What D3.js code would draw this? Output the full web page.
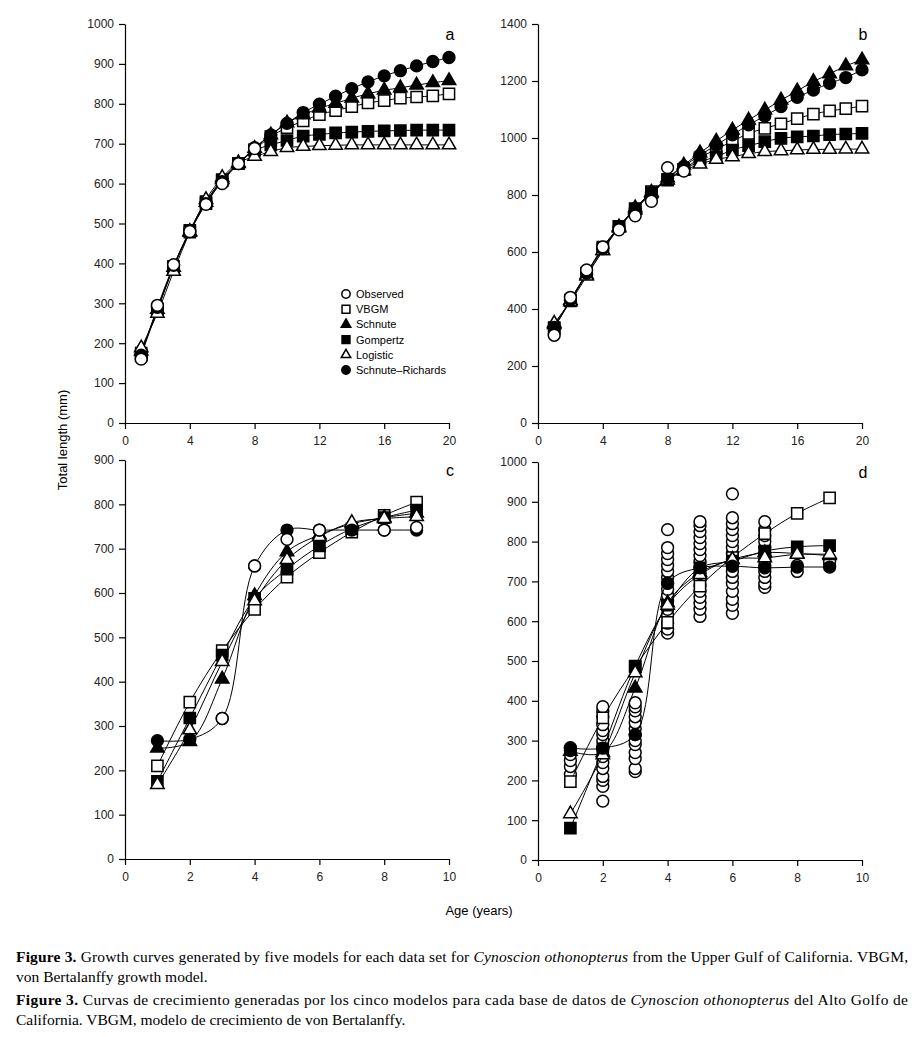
<!DOCTYPE html>
<html>
<head>
<meta charset="utf-8">
<script src="https://cdn.jsdelivr.net/npm/d3@7"></script>
<style>
  body { margin: 0; background: #fff; }
  svg { display: block; }
  .tick text { font-family: "Liberation Sans", Arial, sans-serif; font-size: 12px; fill: #222; }
  .tick line, .domain { stroke: #000; stroke-width: 1.2px; }
</style>
</head>
<body>
<svg id="fig" width="918" height="1037"></svg>
<script>
// ---- data ----
const modelNames = ["VBGM", "Schnute", "Gompertz", "Logistic", "Schnute\u2013Richards"];

// panel a (ages 1..20)
const agesA = d3.range(1, 21);
const obsA = [160, 295, 397, 480, 548, 600, 650, 688];
const vbgmA = [175, 285, 392, 478, 550, 607, 650, 685, 718, 740, 757, 773, 783, 793, 802, 808, 814, 817, 820, 825];
const schnuteA = [180, 285, 390, 480, 553, 610, 650, 688, 722, 752, 772, 789, 801, 814, 825, 834, 840, 847, 853, 858];
const gompertzA = [170, 283, 392, 483, 555, 610, 650, 683, 697, 708, 719, 723, 727, 729, 731, 732, 733, 734, 734, 734];
const logisticA = [188, 275, 380, 478, 560, 615, 652, 668, 680, 690, 693, 695, 696, 697, 697, 697, 697, 697, 697, 697];
const richardsA = [170, 290, 395, 480, 550, 605, 650, 690, 722, 751, 778, 799, 819, 838, 855, 870, 883, 895, 906, 916];

// panel b (ages 1..20)
const agesB = d3.range(1, 21);
const obsB = [308, 441, 537, 618, 678, 727, 778, 896, 884];
const vbgmB = [333, 431, 526, 617, 689, 750, 812, 852, 890, 930, 961, 988, 1016, 1034, 1050, 1068, 1084, 1095, 1103, 1112];
const schnuteB = [345, 430, 520, 605, 688, 755, 810, 860, 905, 948, 989, 1028, 1063, 1098, 1133, 1165, 1198, 1225, 1253, 1274];
const gompertzB = [335, 428, 525, 612, 690, 752, 808, 855, 890, 917, 934, 958, 973, 987, 999, 1004, 1007, 1012, 1014, 1016];
const logisticB = [350, 425, 515, 605, 685, 748, 805, 852, 885, 908, 925, 934, 945, 952, 955, 958, 960, 960, 961, 961];
const richardsB = [335, 432, 525, 612, 688, 752, 808, 858, 900, 940, 975, 1011, 1046, 1077, 1110, 1143, 1168, 1192, 1212, 1239];

// panel c (ages 1..9); null = no visible observed mark
const agesC = d3.range(1, 10);
const obsC = [null, null, 317, 661, 721, 742, null, 742, 748];
const vbgmC = [210, 354, 470, 563, 636, 691, 737, 775, 805];
const schnuteC = [250, 265, 406, 594, 693, 731, 756, 770, 780];
const gompertzC = [175, 318, 460, 588, 654, 706, 745, 770, 787];
const logisticC = [168, 291, 445, 582, 675, 727, 759, 768, 772];
const richardsC = [267, 270, 317, 661, 742, 742, 742, 742, 742];

// panel d (ages 1..9), observed lengths listed per age
const agesD = d3.range(1, 10);
const obsD = [
  [215, 235, 250, 265, 275, 282],
  [148, 185, 200, 210, 230, 245, 260, 280, 300, 315, 325, 340, 360, 375, 385],
  [222, 230, 255, 270, 290, 300, 315, 330, 345, 360, 375, 385, 395],
  [570, 580, 595, 615, 630, 650, 665, 680, 695, 710, 725, 740, 755, 770, 785, 830],
  [612, 630, 645, 660, 675, 690, 705, 720, 735, 750, 765, 780, 795, 810, 825, 840, 850],
  [620, 640, 655, 675, 695, 710, 725, 740, 755, 770, 785, 800, 815, 830, 845, 860, 920],
  [685, 695, 710, 725, 740, 755, 770, 785, 800, 815, 830, 850],
  [725, 740],
  [740, 750]
];
const vbgmD = [197, 357, 485, 597, 688, 760, 820, 871, 910];
const schnuteD = [273, 270, 432, 646, 722, 755, 772, 770, 765];
const gompertzD = [80, 279, 487, 640, 734, 751, 776, 787, 790];
const logisticD = [116, 264, 470, 640, 717, 755, 759, 768, 768];
const richardsD = [281, 281, 315, 696, 734, 738, 734, 736, 736];

// ---- marker styles ----
const markerStyle = {
  obs:      { type: d3.symbolCircle,   fill: "#fff", big: 110 },
  VBGM:     { type: d3.symbolSquare,   fill: "#fff", big: 125 },
  Schnute:  { type: d3.symbolTriangle, fill: "#000", big: 78 },
  Gompertz: { type: d3.symbolSquare,   fill: "#000", big: 125 },
  Logistic: { type: d3.symbolTriangle, fill: "#fff", big: 78 },
  "Schnute\u2013Richards": { type: d3.symbolCircle, fill: "#000", big: 110 }
};

const panels = [
  { label: "a", ages: agesA, obs: obsA, models: [vbgmA, schnuteA, gompertzA, logisticA, richardsA],
    xMax: 20, xStep: 4, yMax: 1000, yStep: 100, x0: 125, x1: 449, y0: 423, y1: 24, obsOnTop: true },
  { label: "b", ages: agesB, obs: obsB, models: [vbgmB, schnuteB, gompertzB, logisticB, richardsB],
    xMax: 20, xStep: 4, yMax: 1400, yStep: 200, x0: 538, x1: 862, y0: 423, y1: 24, obsOnTop: true },
  { label: "c", ages: agesC, obs: obsC, models: [vbgmC, schnuteC, gompertzC, logisticC, richardsC],
    xMax: 10, xStep: 2, yMax: 900, yStep: 100, x0: 125, x1: 449, y0: 859, y1: 460, obsOnTop: true },
  { label: "d", ages: agesD, obs: null, models: [vbgmD, schnuteD, gompertzD, logisticD, richardsD],
    xMax: 10, xStep: 2, yMax: 1000, yStep: 100, x0: 538, x1: 862, y0: 860, y1: 462, obsOnTop: false }
];

const svg = d3.select("#fig");

function drawMarker(g, style, x, y, size) {
  g.append("path")
    .attr("d", d3.symbol().type(style.type).size(size)())
    .attr("transform", `translate(${x},${y})`)
    .attr("fill", style.fill)
    .attr("stroke", "#000")
    .attr("stroke-width", 1.5);
}

panels.forEach(p => {
  const g = svg.append("g");
  const x = d3.scaleLinear().domain([0, p.xMax]).range([p.x0, p.x1]);
  const y = d3.scaleLinear().domain([0, p.yMax]).range([p.y0, p.y1]);

  g.append("g")
    .attr("transform", `translate(0,${p.y0})`)
    .call(d3.axisBottom(x).tickValues(d3.range(0, p.xMax + 1, p.xStep)).tickFormat(d3.format("d"))
      .tickSize(6).tickSizeOuter(0).tickPadding(7));
  g.append("g")
    .attr("transform", `translate(${p.x0},0)`)
    .call(d3.axisLeft(y).tickValues(d3.range(0, p.yMax + 1, p.yStep)).tickFormat(d3.format("d"))
      .tickSize(6).tickSizeOuter(0).tickPadding(5));

  g.append("text")
    .attr("x", p.x1 + 1).attr("y", p.y1 + 16)
    .attr("text-anchor", "middle")
    .style("font-family", "Liberation Sans, Arial, sans-serif")
    .style("font-size", "16px")
    .text(p.label);

  const line = d3.line()
    .x((d, i) => x(p.ages[i]))
    .y(d => y(d))
    .curve(d3.curveCatmullRom.alpha(0.5));

  function drawObs() {
    if (p.obs) {
      p.obs.forEach((v, i) => {
        if (v != null) drawMarker(g, markerStyle.obs, x(p.ages[i]), y(v), markerStyle.obs.big);
      });
    } else {
      obsD.forEach((vals, i) => vals.forEach(v =>
        drawMarker(g, markerStyle.obs, x(agesD[i]), y(v), markerStyle.obs.big)));
    }
  }

  if (!p.obsOnTop) drawObs();

  p.models.forEach(series => {
    g.append("path")
      .datum(series)
      .attr("d", line)
      .attr("fill", "none")
      .attr("stroke", "#000")
      .attr("stroke-width", 1);
  });
  p.models.forEach((series, k) => {
    const st = markerStyle[modelNames[k]];
    series.forEach((v, i) => drawMarker(g, st, x(p.ages[i]), y(v), st.big));
  });

  if (p.obsOnTop) drawObs();
});

// legend in panel a
const legendNames = ["Observed"].concat(modelNames);
const legendStyles = [markerStyle.obs].concat(modelNames.map(n => markerStyle[n]));
const lg = svg.append("g").attr("transform", "translate(346,294)");
legendNames.forEach((n, i) => {
  const st = legendStyles[i];
  drawMarker(lg, st, 0, i * 15.2, st.big * 0.5);
  lg.append("text")
    .attr("x", 10).attr("y", i * 15.2 + 4)
    .style("font-family", "Liberation Sans, Arial, sans-serif")
    .style("font-size", "11px")
    .text(n);
});

// axis titles
svg.append("text")
  .attr("transform", "translate(67,440) rotate(-90)")
  .attr("text-anchor", "middle")
  .style("font-family", "Liberation Sans, Arial, sans-serif")
  .style("font-size", "13px")
  .text("Total length (mm)");
svg.append("text")
  .attr("x", 479).attr("y", 915)
  .attr("text-anchor", "middle")
  .style("font-family", "Liberation Sans, Arial, sans-serif")
  .style("font-size", "13px")
  .text("Age (years)");

// caption
const cap = svg.append("g")
  .style("font-family", "'Liberation Serif', 'Times New Roman', serif")
  .style("font-size", "15.5px");

function capLine(yPos, parts, width) {
  const t = cap.append("text").attr("x", 16).attr("y", yPos);
  if (width) t.attr("textLength", width).attr("lengthAdjust", "spacing");
  parts.forEach(pt => {
    const s = t.append("tspan").text(pt[0]);
    if (pt[1] === "b") s.style("font-weight", "bold");
    if (pt[1] === "i") s.style("font-style", "italic");
  });
}
capLine(962, [["Figure 3.", "b"], [" Growth curves generated by five models for each data set for "], ["Cynoscion othonopterus", "i"], [" from the Upper Gulf of California. VBGM,"]], 892);
capLine(982, [["von Bertalanffy growth model."]]);
capLine(1005, [["Figure 3.", "b"], [" Curvas de crecimiento generadas por los cinco modelos para cada base de datos de "], ["Cynoscion othonopterus", "i"], [" del Alto Golfo de"]], 892);
capLine(1025, [["California. VBGM, modelo de crecimiento de von Bertalanffy."]]);
</script>
</body>
</html>
